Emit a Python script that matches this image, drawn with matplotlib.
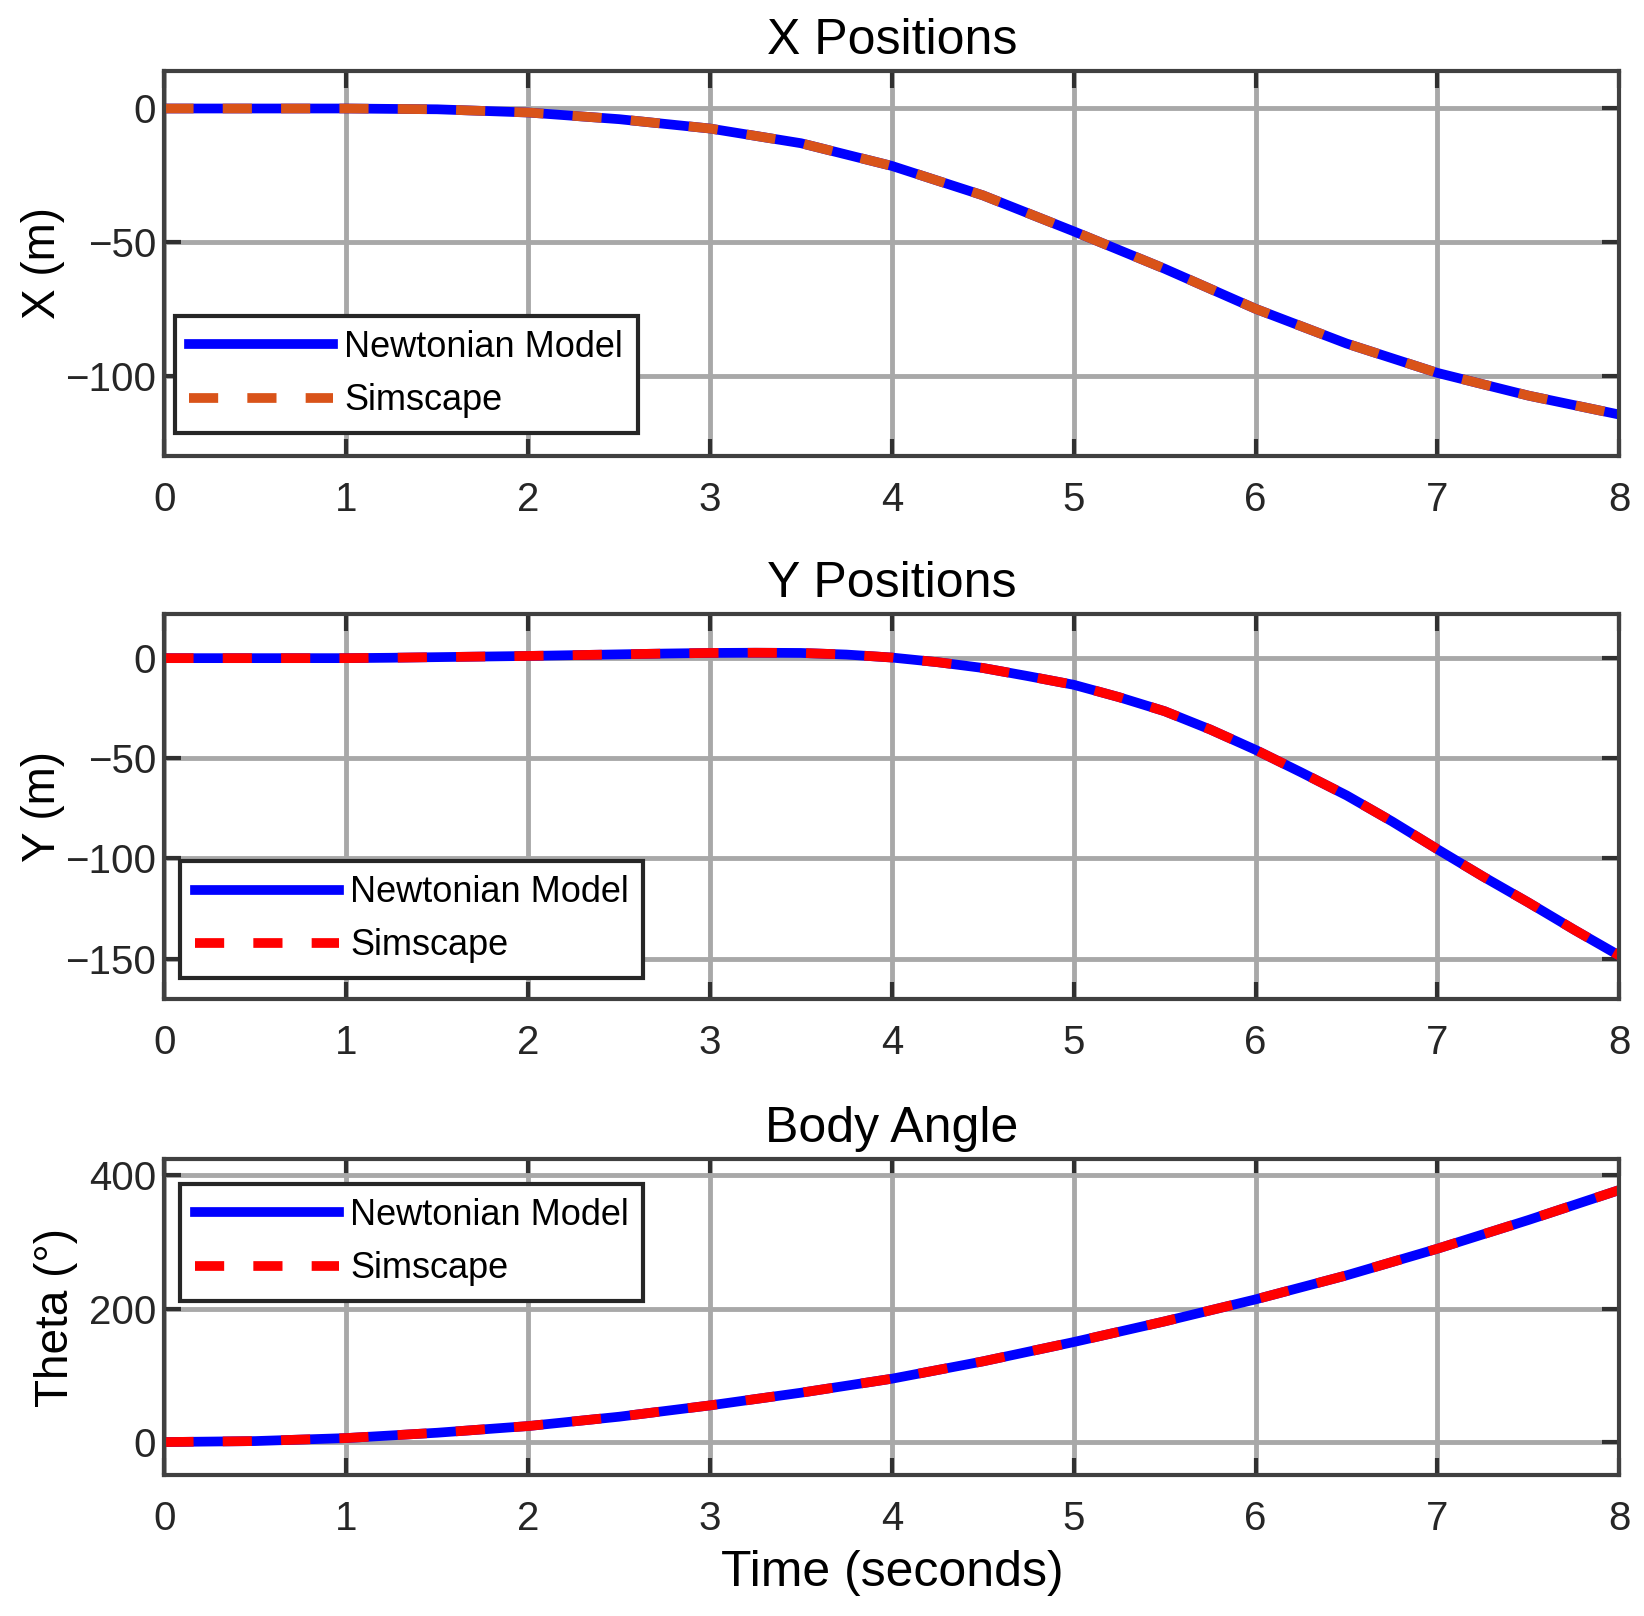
import matplotlib
matplotlib.use("Agg")
import matplotlib.pyplot as plt

# values (time in seconds)
t_x = [0, 0.5, 1, 1.5, 2, 2.5, 3, 3.5, 4, 4.5, 5, 5.5, 6, 6.5, 7, 7.5, 8]
x_pos = [0, 0, 0, -0.3, -1.5, -4.0, -7.5, -13, -21.5, -32.5, -46, -60, -75, -88, -99, -107.5, -114.6]

t_y = [0, 0.25, 0.5, 0.75, 1, 1.25, 1.5, 1.75, 2, 2.25, 2.5, 2.75, 3, 3.25, 3.5, 3.75,
       4, 4.25, 4.5, 4.75, 5, 5.25, 5.5, 5.75, 6, 6.25, 6.5, 6.75, 7, 7.25, 7.5, 7.75, 8]
y_pos = [0, 0, 0, 0, 0, 0.2, 0.5, 0.8, 1.1, 1.5, 1.9, 2.3, 2.6, 2.7, 2.6, 1.8,
         0.3, -2, -4.9, -9, -13.3, -19.5, -26.5, -35.6, -45.8, -57, -68.5, -81.5, -95.4, -109, -122, -135.5, -148.5]

t_th = [0, 0.5, 1, 1.5, 2, 2.5, 3, 3.5, 4, 4.5, 5, 5.5, 6, 6.5, 7, 7.5, 8]
theta = [0, 1.5, 6, 14, 24, 38, 55, 74, 95, 121, 150, 181, 214, 250, 290, 333, 378]

titles = ["X Positions", "Y Positions", "Body Angle"]
ylabels = ["X (m)", "Y (m)", "Theta (°)"]
yticks = [[-100, -50, 0], [-150, -100, -50, 0], [0, 200, 400]]
ylims = [(-130, 14), (-170, 22), (-50, 425)]
sim_colors = ["#D95319", "#FF0000", "#FF0000"]
series = [(t_x, x_pos), (t_y, y_pos), (t_th, theta)]
legend_locs = ["lower left", "lower left", "upper left"]
legend_anchor = [(0.007, 0.06), (0.011, 0.054), (0.011, 0.921)]
label_pads = [0, 0, 8]

plt.rcParams['font.family'] = ['Liberation Sans', 'DejaVu Sans']

fig = plt.figure(figsize=(16.44, 16.16), dpi=100)
boxes = [[0.100, 0.718, 0.885, 0.238],
         [0.100, 0.382, 0.885, 0.238],
         [0.100, 0.087, 0.885, 0.196]]

for i in range(3):
    ax = fig.add_axes(boxes[i])
    tt, vals = series[i]
    ax.plot(tt, vals, color="#0000FF", lw=7, label="Newtonian Model")
    ax.plot(tt, vals, color=sim_colors[i], lw=7, dashes=(3, 3), label="Simscape")
    ax.set_xlim(0, 8)
    ax.set_ylim(*ylims[i])
    ax.set_xticks(range(9))
    ax.set_yticks(yticks[i])
    ax.grid(True, color="#a8a8a8", lw=3.5)
    ax.set_axisbelow(True)
    for s in ax.spines.values():
        s.set_color("#404040")
        s.set_linewidth(3)
    ax.tick_params(direction="in", top=True, right=True, length=12, width=3,
                   color="#303030", labelsize=29, labelcolor="#262626")
    ax.tick_params(axis="x", pad=18)
    ax.tick_params(axis="y", pad=6)
    ax.set_title(titles[i], fontsize=36, pad=12)
    ax.set_ylabel(ylabels[i], fontsize=33, labelpad=label_pads[i])
    leg = ax.legend(loc=legend_locs[i], bbox_to_anchor=legend_anchor[i],
                    fontsize=26, handlelength=4.0, fancybox=False, framealpha=1,
                    borderaxespad=0, handletextpad=0.3, labelspacing=0.5)
    leg.get_frame().set_edgecolor("#262626")
    leg.get_frame().set_linewidth(3)
    if i == 2:
        ax.set_xlabel("Time (seconds)", fontsize=36, labelpad=8)

fig.savefig("out.png", dpi=100)
